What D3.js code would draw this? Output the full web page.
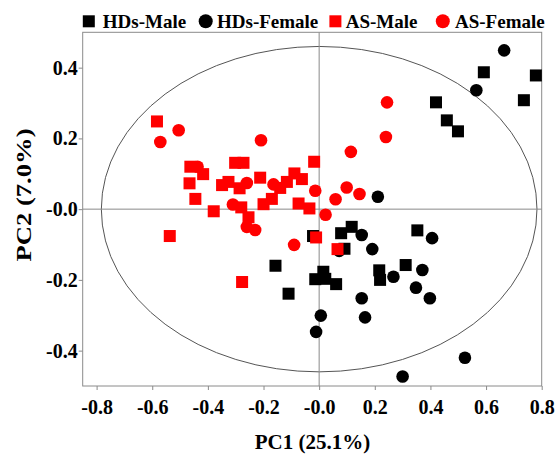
<!DOCTYPE html>
<html><head><meta charset="utf-8">
<script src="https://cdn.jsdelivr.net/npm/d3@7"></script>
<style>body{margin:0;background:#fff}svg{display:block}text{font-family:"Liberation Serif","Times New Roman",serif;font-weight:bold}</style>
</head><body>
<svg id="c" width="556" height="456"></svg>
<script>
const series = ["HDs-Male","HDs-Female","AS-Male","AS-Female"];
const xTicks = [-0.8,-0.6,-0.4,-0.2,0,0.2,0.4,0.6,0.8];
const yTicks = [-0.4,-0.2,0,0.2,0.4];
const hdsMale = [[0.592,0.387],[0.779,0.378],[0.736,0.308],[0.420,0.302],[0.459,0.251],[0.499,0.220],
 [0.117,-0.050],[0.079,-0.068],[-0.022,-0.076],[0.091,-0.112],[0.353,-0.060],[0.311,-0.158],[0.216,-0.173],
 [0.219,-0.200],[-0.157,-0.160],[0.015,-0.177],[-0.014,-0.198],[0.022,-0.197],[0.061,-0.212],[-0.110,-0.239]];
const hdsFemale = [[0.665,0.449],[0.565,0.336],[0.211,0.035],[0.153,-0.073],[0.072,-0.118],[0.191,-0.113],
 [0.406,-0.082],[0.371,-0.172],[0.267,-0.191],[0.348,-0.222],[0.398,-0.252],[0.153,-0.252],[0.006,-0.301],
 [0.165,-0.306],[-0.011,-0.347],[0.300,-0.473],[0.524,-0.420]];
const asMale = [[-0.583,0.248],[-0.463,0.120],[-0.417,0.099],[-0.466,0.073],[-0.445,0.029],[-0.379,-0.006],
 [-0.537,-0.076],[-0.277,-0.206],[-0.302,0.131],[-0.272,0.131],[-0.212,0.089],[-0.349,0.068],[-0.326,0.077],
 [-0.286,0.059],[-0.200,0.014],[-0.170,0.029],[-0.280,0.005],[-0.254,-0.023],[-0.018,0.134],[-0.089,0.101],
 [-0.062,0.085],[-0.116,0.077],[-0.140,0.060],[-0.074,0.016],[-0.035,0.002],[-0.011,-0.080],[0.066,-0.113]];
const asFemale = [[-0.505,0.223],[-0.571,0.190],[-0.209,0.195],[-0.437,0.120],[-0.260,0.074],[-0.164,0.070],
 [-0.310,0.013],[-0.260,-0.050],[-0.230,-0.059],[-0.014,0.052],[0.099,0.061],[0.145,0.043],[0.059,0.028],
 [0.023,-0.016],[-0.090,-0.101],[0.114,0.162],[0.240,0.204],[0.244,0.302]];
const ellipseR = [0.783, 0.46];

const svg = d3.select("#c");
const L=82.7,R=541.7,T=32.3,B=386;
const x = d3.scaleLinear().domain([-0.85,0.8]).range([L,R]);
const y = d3.scaleLinear().domain([-0.5,0.5]).range([B,T]);
const gray="#8a8a8a";

// ellipse
svg.append("ellipse").attr("cx",x(0)).attr("cy",y(0))
  .attr("rx",x(ellipseR[0])-x(0)).attr("ry",y(0)-y(ellipseR[1]))
  .attr("fill","none").attr("stroke","#555").attr("stroke-width",1);
// origin lines
svg.append("line").attr("x1",L).attr("x2",R).attr("y1",y(0)).attr("y2",y(0)).attr("stroke",gray);
svg.append("line").attr("x1",x(0)).attr("x2",x(0)).attr("y1",T).attr("y2",B).attr("stroke",gray);

// axes
const fmt = d => (d===0 ? "-0.0" : d3.format(".1f")(d).replace("−","-"));
const gx = svg.append("g").attr("transform",`translate(0,${B})`)
  .call(d3.axisBottom(x).tickValues(xTicks).tickSize(4).tickPadding(10).tickFormat(fmt));
const gy = svg.append("g").attr("transform",`translate(${L},0)`)
  .call(d3.axisLeft(y).tickValues(yTicks).tickSize(4).tickPadding(1).tickFormat(fmt));
[gx,gy].forEach(g=>{
  g.select(".domain").remove();
  g.selectAll("line").attr("stroke",gray);
  g.selectAll("text").attr("fill","#000").style("font-size","20px").style("font-family",'"Liberation Serif",serif').style("font-weight","bold");
});
// frame
svg.append("rect").attr("x",L).attr("y",T).attr("width",R-L).attr("height",B-T)
  .attr("fill","none").attr("stroke",gray);

// points
const sq=12, cr=6.3;
function squares(data,color){
  svg.append("g").selectAll("rect").data(data).join("rect")
   .attr("x",d=>x(d[0])-sq/2).attr("y",d=>y(d[1])-sq/2).attr("width",sq).attr("height",sq).attr("fill",color);
}
function circles(data,color){
  svg.append("g").selectAll("circle").data(data).join("circle")
   .attr("cx",d=>x(d[0])).attr("cy",d=>y(d[1])).attr("r",cr).attr("fill",color);
}
squares(hdsMale,"#000");
circles(hdsFemale,"#000");
squares(asMale,"#f00");
circles(asFemale,"#f00");

// legend
const leg = [
 {t:series[0],shape:"sq",c:"#000",mx:88.8,tx:102.8},
 {t:series[1],shape:"ci",c:"#000",mx:205.7,tx:217},
 {t:series[2],shape:"sq",c:"#f00",mx:335.4,tx:345.7},
 {t:series[3],shape:"ci",c:"#f00",mx:442.8,tx:455}
];
const ly=21.3;
leg.forEach(o=>{
  if(o.shape==="sq") svg.append("rect").attr("x",o.mx-6).attr("y",ly-6).attr("width",12).attr("height",12).attr("fill",o.c);
  else svg.append("circle").attr("cx",o.mx).attr("cy",ly).attr("r",7).attr("fill",o.c);
  svg.append("text").attr("x",o.tx).attr("y",ly+7).style("font-size","19px").attr("fill","#000").text(o.t);
});

// titles
svg.append("text").attr("x",312.5).attr("y",449).attr("text-anchor","middle").style("font-size","21px").text("PC1 (25.1%)");
svg.append("text").attr("transform","translate(31,195) rotate(-90)").attr("text-anchor","middle")
  .style("font-size","22px").attr("textLength",133).attr("lengthAdjust","spacingAndGlyphs").text("PC2 (7.0%)");
</script>
</body></html>
